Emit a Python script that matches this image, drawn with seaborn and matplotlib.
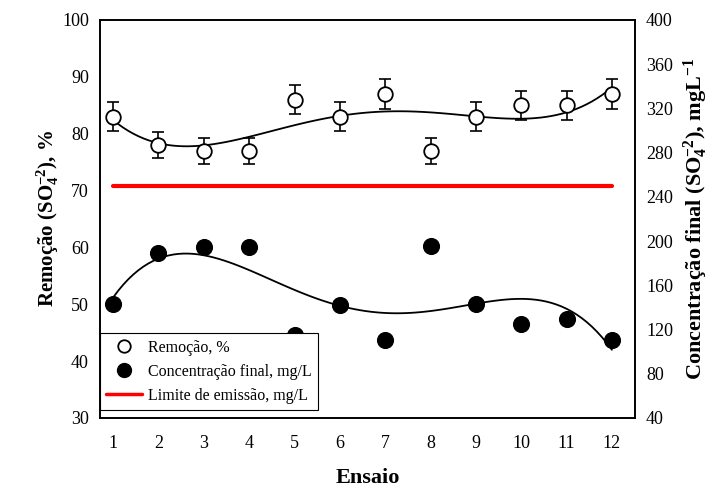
import matplotlib
matplotlib.use("agg")
import matplotlib.pyplot as plt
from matplotlib.lines import Line2D
import seaborn as sns
import numpy as np
import pandas as pd

ensaio = [1, 2, 3, 4, 5, 6, 7, 8, 9, 10, 11, 12]
remocao = [83, 78, 77, 77, 86, 83, 87, 77, 83, 85, 85, 87]
remocao_err = [2.5, 2.3, 2.3, 2.3, 2.6, 2.5, 2.6, 2.3, 2.5, 2.55, 2.55, 2.6]
concentracao = [143, 189, 195, 195, 115, 142, 111, 196, 143, 125, 130, 111]
limite = 250

d = pd.DataFrame({"ensaio": ensaio, "remocao": remocao, "err": remocao_err,
                  "conc": concentracao})

sns.set_style("ticks")
plt.rcParams["font.family"] = ["Liberation Serif", "DejaVu Serif"]
plt.rcParams["mathtext.default"] = "regular"
plt.rcParams["text.color"] = "black"
plt.rcParams["axes.labelcolor"] = "black"
plt.rcParams["xtick.color"] = "black"
plt.rcParams["ytick.color"] = "black"

fig, ax = plt.subplots(figsize=(7.12, 4.88), dpi=100)
fig.subplots_adjust(left=100 / 712, right=635 / 712, top=1 - 20 / 488, bottom=1 - 418 / 488)
ax2 = ax.twinx()

# removal (left axis)
ax.errorbar(d["ensaio"], d["remocao"], yerr=d["err"], fmt="none", ecolor="black",
            elinewidth=1.2, capsize=4, capthick=1.2, zorder=2)
sns.regplot(x="ensaio", y="remocao", data=d, order=4, ci=None, scatter=False,
            line_kws={"color": "black", "lw": 1.3}, ax=ax)
sns.scatterplot(x="ensaio", y="remocao", data=d, ax=ax, s=110, color="white",
                edgecolor="black", linewidth=1.3, zorder=3)

# final concentration (right axis)
sns.regplot(x="ensaio", y="conc", data=d, order=4, ci=None, scatter=False,
            line_kws={"color": "black", "lw": 1.3}, ax=ax2)
sns.scatterplot(x="ensaio", y="conc", data=d, ax=ax2, s=130, color="black",
                edgecolor="black", zorder=3)
sns.lineplot(x=[ensaio[0], ensaio[-1]], y=[limite, limite], color="red", lw=3, ax=ax2)

ax.set_xlim(0.71, 12.51)
ax.set_ylim(30, 100)
ax2.set_ylim(40, 400)
ax.set_xticks(ensaio)
ax.set_yticks(range(30, 101, 10))
ax2.set_yticks(range(40, 401, 40))
ax.tick_params(length=0, labelsize=13, pad=8)
ax2.tick_params(length=0, labelsize=13, pad=8)
ax.tick_params(axis="x", pad=12)
for a in (ax, ax2):
    for s in a.spines.values():
        s.set_linewidth(1.2)
        s.set_color("black")

ax.set_xlabel("Ensaio", fontsize=16, fontweight="bold", labelpad=12)
ax.set_ylabel("Remoção (SO$_4^{-2}$), %", fontsize=15, fontweight="bold", labelpad=1)
ax2.set_ylabel("Concentração final (SO$_4^{-2}$), mgL$^{-1}$", fontsize=16,
               fontweight="bold", labelpad=6)

handles = [
    Line2D([], [], ls="none", marker="o", markersize=9, markerfacecolor="white",
           markeredgecolor="black", markeredgewidth=1.3),
    Line2D([], [], ls="none", marker="o", markersize=10, color="black"),
    Line2D([], [], color="red", lw=2.5),
]
labels = ["Remoção, %", "Concentração final, mg/L", "Limite de emissão, mg/L"]
leg = ax2.legend(handles, labels, loc="lower left", bbox_to_anchor=(0.0, 0.02),
                 fontsize=11.5, frameon=True, fancybox=False, edgecolor="black",
                 borderaxespad=0.0, handlelength=2.2, handletextpad=0.4,
                 labelspacing=0.5, borderpad=0.4)
leg.get_frame().set_linewidth(0.8)
leg.get_frame().set_alpha(1)

plt.savefig("out.png", dpi=100)
